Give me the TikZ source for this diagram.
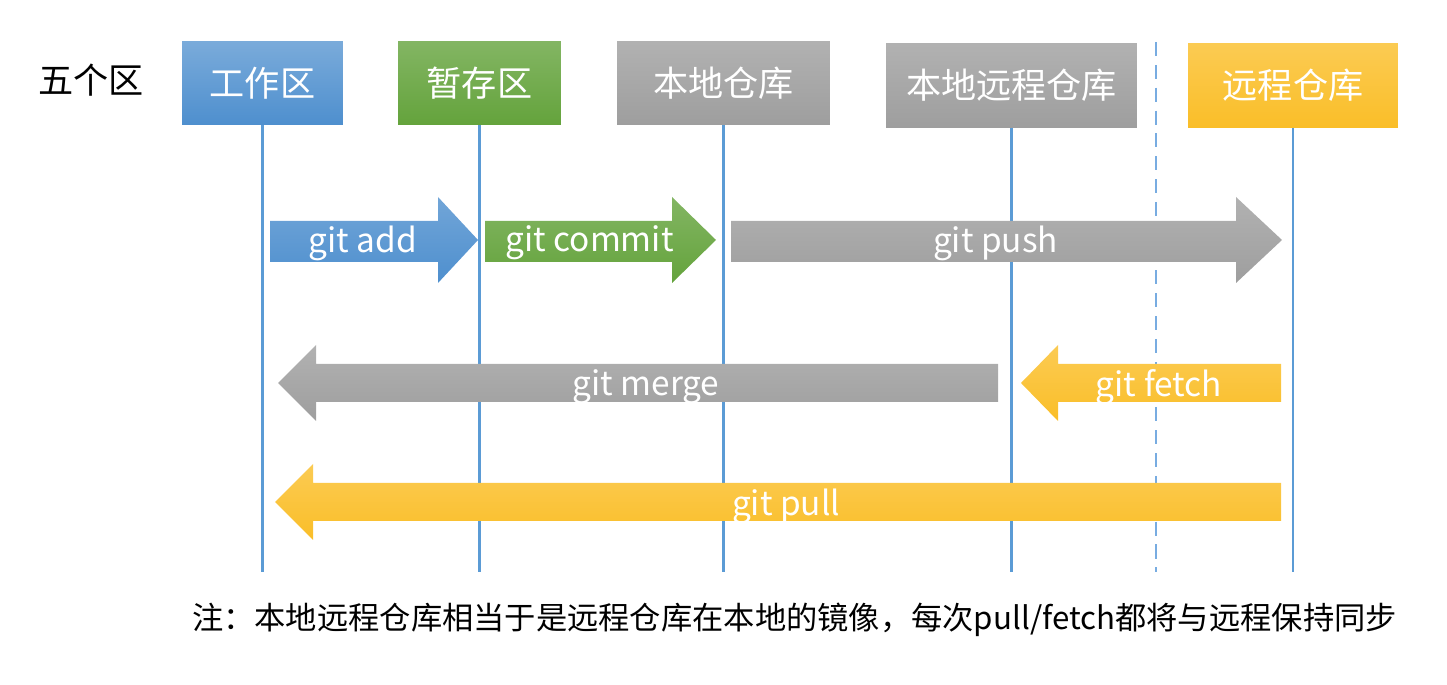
\documentclass[tikz,border=0pt]{standalone}
\usepackage{fontspec}
\setmainfont{Noto Sans CJK SC}
\usepackage{tikz}
\usetikzlibrary{positioning}

\definecolor{boxblue}{RGB}{78,143,206}
\definecolor{boxgreen}{RGB}{100,163,60}
\definecolor{boxgray}{RGB}{158,158,158}
\definecolor{boxyellow}{RGB}{250,190,40}
\definecolor{lineblue}{RGB}{91,155,213}
\definecolor{dashblue}{RGB}{120,172,225}

\begin{document}
\begin{tikzpicture}[x=0.02cm, y=-0.02cm,
    zone/.style={text=white, font=\fontsize{20}{24}\selectfont, inner sep=0pt, minimum height=1.68cm},
    cmd/.style={text=white, font=\fontsize{19}{23}\selectfont, inner sep=0pt},
    life/.style={draw=lineblue, line width=1.6pt}]
  \useasboundingbox (0,0) rectangle (1447,685);

  % title
  \node[font=\fontsize{20}{24}\selectfont] (five) at (91,80) {五个区};

  % zones
  \node[zone, minimum width=3.22cm, top color=boxblue!75!white, bottom color=boxblue] (work) at (262.5,83) {工作区};
  \node[zone, minimum width=3.26cm, top color=boxgreen!80!white, bottom color=boxgreen] (stage) at (479.5,83) {暂存区};
  \node[zone, minimum width=4.26cm, top color=boxgray!80!white, bottom color=boxgray] (local) at (723.5,83) {本地仓库};
  \node[zone, minimum width=5.02cm, minimum height=1.7cm, top color=boxgray!80!white, bottom color=boxgray] (mirror) at (1011.5,85.5) {本地远程仓库};
  \node[zone, minimum width=4.2cm, minimum height=1.7cm, top color=boxyellow!80!white, bottom color=boxyellow] (remote) at (1293,85.5) {远程仓库};

  % life lines
  \coordinate (bottom) at (0,572);
  \foreach \z in {work, stage, local, mirror, remote}
    \draw[life] (\z) -- (\z |- bottom);
  \draw[dashblue, line width=1.3pt, dash pattern=on 8pt off 5pt] (1156,42) -- (1156,572);

  % forward commands
  \foreach \n/\a/\b/\c/\col in {add/270/438/478/boxblue, commit/485/672/716/boxgreen, push/731/1236/1282/boxgray} {
    \shade[top color=\col!80!white, bottom color=\col] (\a,221) -- (\b,221) -- (\b,197) -- (\c,240) -- (\b,283) -- (\b,262) -- (\a,262) -- cycle;
    \node[cmd] (\n) at ({(\a+\c)/2-11},243) {git \n};
  }

  % backward commands
  \foreach \n/\a/\b/\c/\y/\col in {merge/278/316/998/383/boxgray, fetch/1021/1058/1281/383/boxyellow, pull/275/313/1281/502/boxyellow} {
    \shade[top color=\col!80!white, bottom color=\col] (\c,\y-19) -- (\b,\y-19) -- (\b,\y-38) -- (\a,\y) -- (\b,\y+38) -- (\b,\y+19) -- (\c,\y+19) -- cycle;
    \node[cmd] (\n) at ({(\a+\c)/2+8},\y+4) {git \n};
  }

  % note
  \node[font=\fontsize{17.8}{21}\selectfont] (note) at (794.5,620) {注：本地远程仓库相当于是远程仓库在本地的镜像，每次pull/fetch都将与远程保持同步};
\end{tikzpicture}
\end{document}
